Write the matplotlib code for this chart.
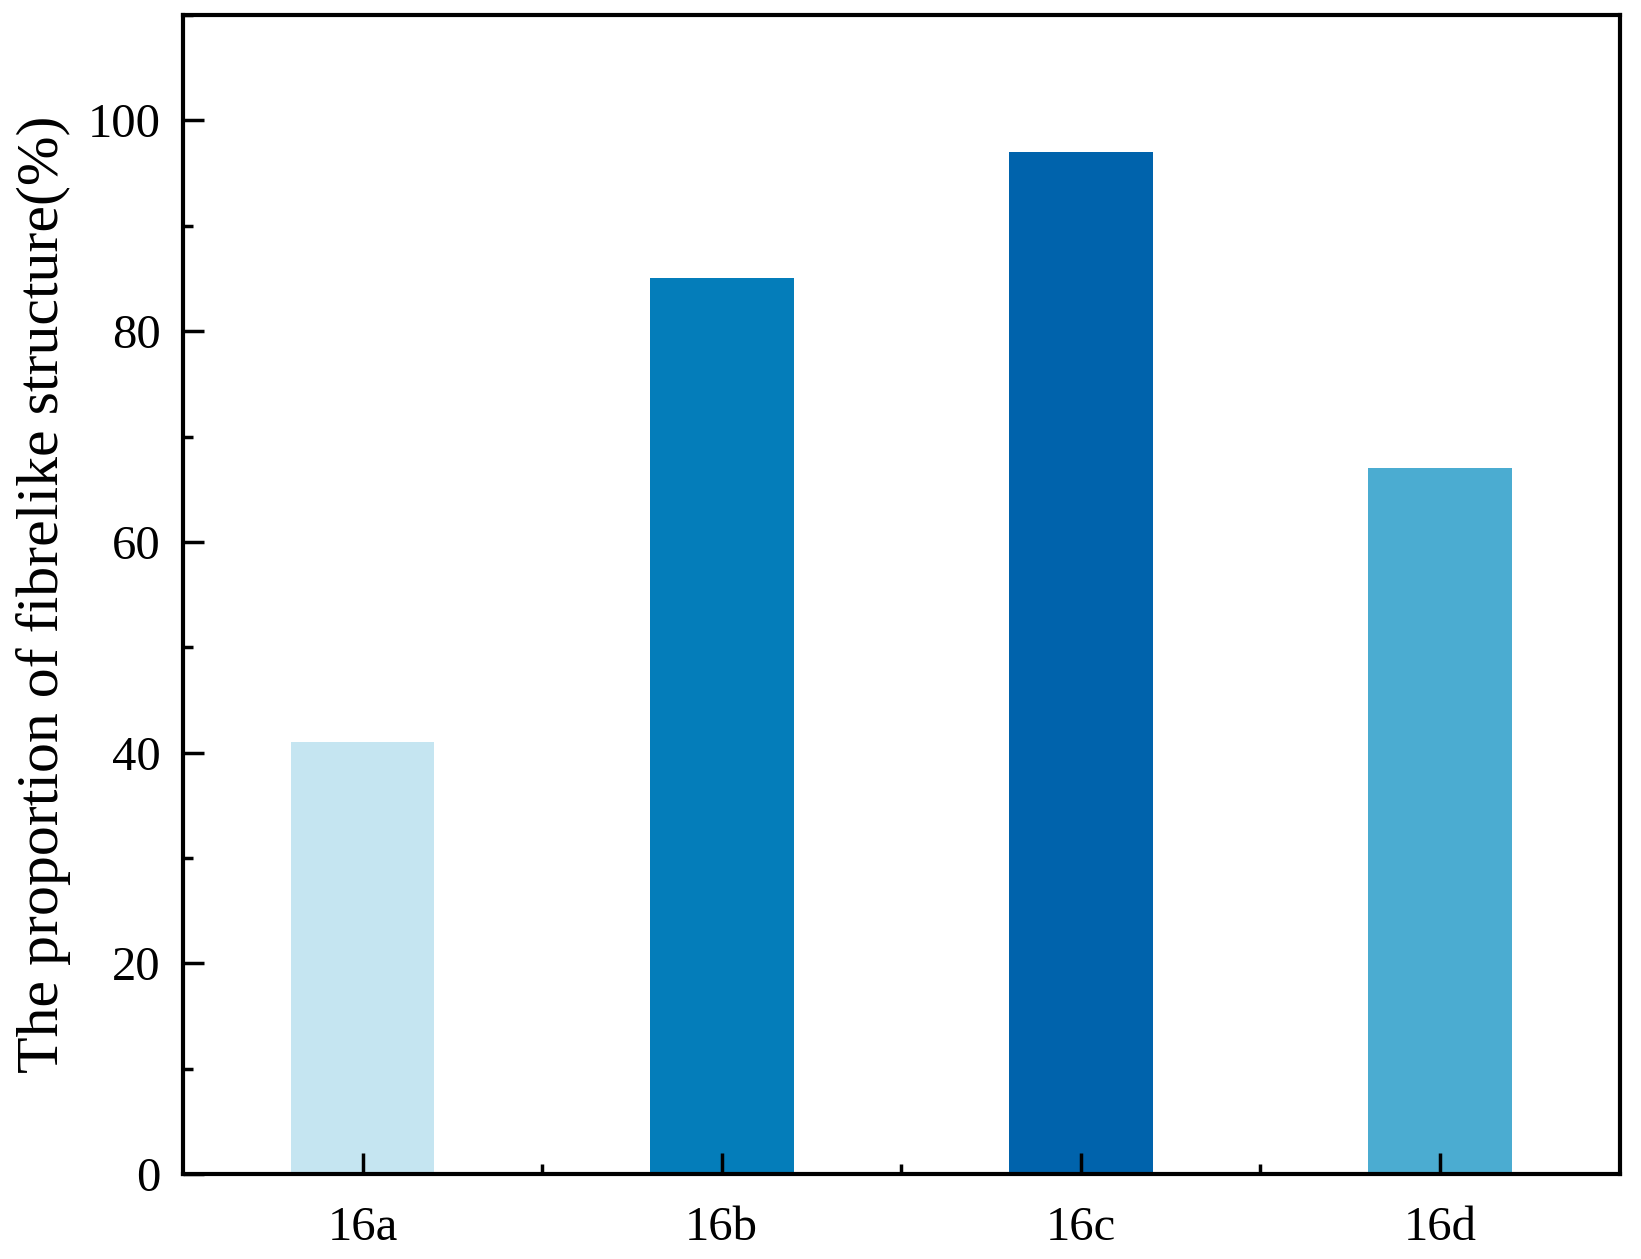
import matplotlib.pyplot as plt
from matplotlib.ticker import MultipleLocator, FixedLocator

samples = ['16a', '16b', '16c', '16d']
fibrelike = [41, 85, 97, 67]
bar_colors = ['#C5E5F1', '#047DBA', '#0063AC', '#4BACD1']

plt.rcParams['font.family'] = ['Liberation Serif', 'DejaVu Serif']

fig = plt.figure(figsize=(16.41, 12.59), dpi=100)
ax = fig.add_axes([0.1115, 0.0675, 0.8755, 0.9205])

x = list(range(len(samples)))
ax.bar(x, fibrelike, width=0.4, color=bar_colors)

ax.set_xlim(-0.5, 3.5)
ax.set_ylim(0, 110)
ax.set_xticks(x)
ax.set_xticklabels(samples)
ax.xaxis.set_minor_locator(FixedLocator([0.5, 1.5, 2.5]))
ax.yaxis.set_major_locator(MultipleLocator(20))
ax.yaxis.set_minor_locator(MultipleLocator(10))

ax.tick_params(which='both', direction='in', width=2.5, labelsize=35)
ax.tick_params(which='major', length=15)
ax.tick_params(which='minor', length=7)
ax.tick_params(axis='y', pad=16)
ax.tick_params(axis='x', pad=23)

for sp in ax.spines.values():
    sp.set_linewidth(3)

ax.set_ylabel('The proportion of fibrelike structure(%)', fontsize=43)
ax.yaxis.set_label_coords(-0.078, 0.5)

fig.savefig('out.png', dpi=100)
